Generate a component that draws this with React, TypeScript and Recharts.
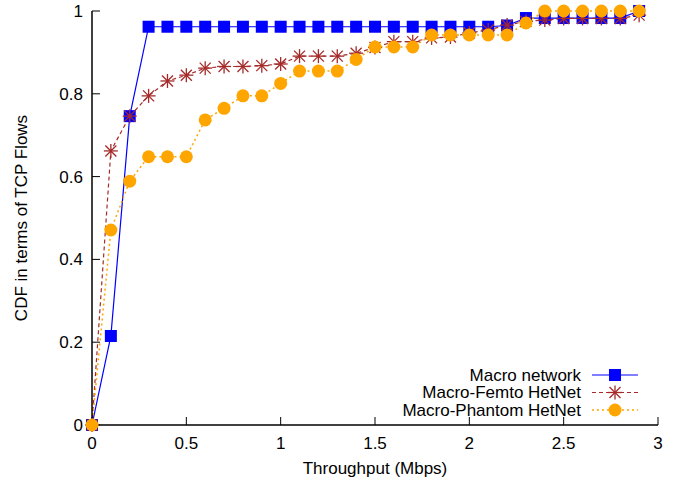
import React from 'react';
import { LineChart, Line, XAxis, YAxis, Legend, Label } from 'recharts';

const throughput = [0, 0.1, 0.2, 0.3, 0.4, 0.5, 0.6, 0.7, 0.8, 0.9, 1.0, 1.1, 1.2, 1.3, 1.4, 1.5, 1.6, 1.7, 1.8, 1.9, 2.0, 2.1, 2.2, 2.3, 2.4, 2.5, 2.6, 2.7, 2.8, 2.9];
const macroNetwork = [0, 0.215, 0.746, 0.962, 0.962, 0.962, 0.962, 0.962, 0.962, 0.962, 0.962, 0.962, 0.962, 0.962, 0.962, 0.962, 0.962, 0.962, 0.962, 0.962, 0.962, 0.962, 0.965, 0.983, 0.983, 0.983, 0.983, 0.983, 0.983, 1.0];
const macroFemto = [0, 0.662, 0.746, 0.795, 0.831, 0.845, 0.862, 0.866, 0.866, 0.868, 0.872, 0.891, 0.891, 0.891, 0.898, 0.912, 0.926, 0.926, 0.935, 0.937, 0.947, 0.954, 0.966, 0.975, 0.978, 0.982, 0.982, 0.982, 0.982, 0.99];
const macroPhantom = [0, 0.471, 0.589, 0.648, 0.648, 0.648, 0.737, 0.765, 0.795, 0.795, 0.825, 0.855, 0.855, 0.855, 0.883, 0.913, 0.913, 0.913, 0.942, 0.942, 0.942, 0.942, 0.942, 0.971, 1.0, 1.0, 1.0, 1.0, 1.0, 1.0];
const xTicks = [0, 0.5, 1, 1.5, 2, 2.5, 3];
const yTicks = [0, 0.2, 0.4, 0.6, 0.8, 1];
const seriesNames = ['Macro network', 'Macro-Femto HetNet', 'Macro-Phantom HetNet'];

const data = throughput.map((x, i) => ({
  x,
  macro: macroNetwork[i],
  femto: macroFemto[i],
  phantom: macroPhantom[i],
}));

const FONT = "'Liberation Sans', Arial, Helvetica, sans-serif";
const FS = 17;
const BLUE = '#0000ff';
const BROWN = '#a52a2a';
const ORANGE = '#ffa500';

const Square = (p: any) => {
  if (p.cx == null || p.cy == null) return null;
  return <rect x={p.cx - 6} y={p.cy - 6} width={12} height={12} fill={BLUE} />;
};

const Star = (p: any) => {
  if (p.cx == null || p.cy == null) return null;
  const { cx, cy } = p;
  const a = 7;
  const d = 5.5;
  return (
    <g stroke={BROWN} strokeWidth={1.3} fill="none">
      <line x1={cx - a} y1={cy} x2={cx + a} y2={cy} />
      <line x1={cx} y1={cy - a} x2={cx} y2={cy + a} />
      <line x1={cx - d} y1={cy - d} x2={cx + d} y2={cy + d} />
      <line x1={cx - d} y1={cy + d} x2={cx + d} y2={cy - d} />
    </g>
  );
};

const Dot = (p: any) => {
  if (p.cx == null || p.cy == null) return null;
  return <circle cx={p.cx} cy={p.cy} r={6.5} fill={ORANGE} />;
};

const legendItems = [
  { name: seriesNames[0], color: BLUE, dash: undefined as string | undefined, Marker: Square, width: 1.2 },
  { name: seriesNames[1], color: BROWN, dash: '4 3', Marker: Star, width: 1.2 },
  { name: seriesNames[2], color: ORANGE, dash: '2 3', Marker: Dot, width: 1.5 },
];

const LegendBox = () => (
  <svg width={260} height={60} style={{ display: 'block', overflow: 'visible' }}>
    {legendItems.map((s, i) => {
      const y = 13 + i * 17.5;
      const M = s.Marker;
      return (
        <g key={s.name}>
          <text
            x={181}
            y={y}
            textAnchor="end"
            dominantBaseline="central"
            fontFamily={FONT}
            fontSize={FS}
            fill="#000"
          >
            {s.name}
          </text>
          <line x1={192} x2={238} y1={y} y2={y} stroke={s.color} strokeWidth={s.width} strokeDasharray={s.dash} />
          <M cx={215} cy={y} />
        </g>
      );
    })}
  </svg>
);

const YTitle = (p: any) => {
  const vb = p.viewBox || { x: 0, y: 0, height: 0 };
  const cx = vb.x + 13;
  const cy = vb.y + vb.height / 2;
  return (
    <text
      x={cx}
      y={cy}
      transform={`rotate(-90 ${cx} ${cy})`}
      textAnchor="middle"
      dominantBaseline="central"
      fontFamily={FONT}
      fontSize={FS}
      fill="#000"
    >
      CDF in terms of TCP Flows
    </text>
  );
};

const tickStyle = { fontSize: FS, fontFamily: FONT, fill: '#000' };
const axisLineStyle = { stroke: '#000', strokeWidth: 1.5 };
const tickLineStyle = { stroke: '#000', strokeWidth: 1 };

export default function App() {
  return (
    <div style={{ position: 'absolute', left: 0, top: 0, width: 680, height: 483, fontFamily: FONT }}>
      <LineChart
        width={680}
        height={483}
        data={data}
        margin={{ top: 11, right: 22, bottom: 28, left: 8 }}
      >
        <XAxis
          xAxisId="bottom"
          dataKey="x"
          type="number"
          domain={[0, 3]}
          ticks={xTicks}
          height={30}
          tickSize={-8}
          tickMargin={20}
          tick={tickStyle}
          axisLine={axisLineStyle}
          tickLine={tickLineStyle}
          interval={0}
        >
          <Label
            value="Throughput (Mbps)"
            position="bottom"
            offset={7}
            style={{ fontSize: FS, fontFamily: FONT, fill: '#000' }}
          />
        </XAxis>
        <XAxis
          xAxisId="top"
          dataKey="x"
          type="number"
          orientation="top"
          domain={[0, 3]}
          ticks={xTicks}
          height={0}
          tickSize={-8}
          tickFormatter={() => ''}
          axisLine={axisLineStyle}
          tickLine={tickLineStyle}
          interval={0}
        />
        <YAxis
          yAxisId="left"
          type="number"
          domain={[0, 1]}
          ticks={yTicks}
          width={84}
          tickSize={-8}
          tickMargin={17}
          tick={tickStyle}
          axisLine={axisLineStyle}
          tickLine={tickLineStyle}
          interval={0}
        >
          <Label content={YTitle} />
        </YAxis>
        <YAxis
          yAxisId="right"
          type="number"
          orientation="right"
          domain={[0, 1]}
          ticks={yTicks}
          width={0}
          tickSize={-8}
          tickFormatter={() => ''}
          axisLine={axisLineStyle}
          tickLine={tickLineStyle}
          interval={0}
        />
        <Line
          xAxisId="bottom"
          yAxisId="left"
          dataKey="macro"
          name={seriesNames[0]}
          stroke={BLUE}
          strokeWidth={1.2}
          type="linear"
          isAnimationActive={false}
          dot={(p: any) => <Square key={`m${p.index}`} cx={p.cx} cy={p.cy} />}
          activeDot={false}
        />
        <Line
          xAxisId="bottom"
          yAxisId="left"
          dataKey="femto"
          name={seriesNames[1]}
          stroke={BROWN}
          strokeWidth={1.2}
          strokeDasharray="4 3"
          type="linear"
          isAnimationActive={false}
          dot={(p: any) => <Star key={`f${p.index}`} cx={p.cx} cy={p.cy} />}
          activeDot={false}
        />
        <Line
          xAxisId="bottom"
          yAxisId="left"
          dataKey="phantom"
          name={seriesNames[2]}
          stroke={ORANGE}
          strokeWidth={1.5}
          strokeDasharray="2 3"
          type="linear"
          isAnimationActive={false}
          dot={(p: any) => <Dot key={`p${p.index}`} cx={p.cx} cy={p.cy} />}
          activeDot={false}
        />
        <Legend
          layout="vertical"
          align="center"
          verticalAlign="middle"
          content={<LegendBox />}
          wrapperStyle={{ left: 400, top: 362, width: 260, height: 60 }}
        />
      </LineChart>
    </div>
  );
}
